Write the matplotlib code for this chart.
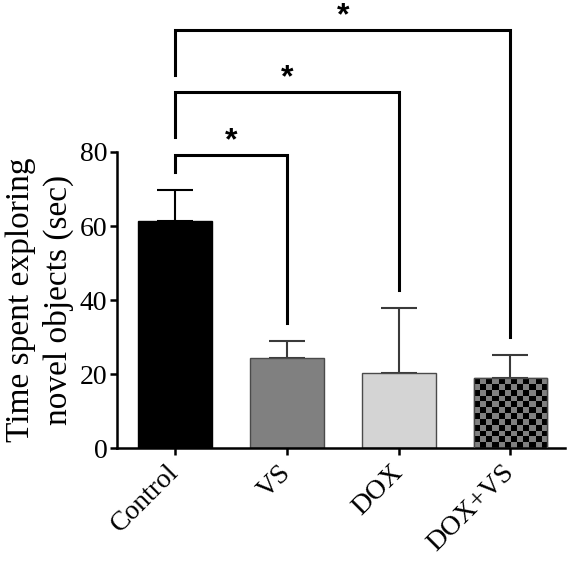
import matplotlib
matplotlib.use("Agg")
import matplotlib.pyplot as plt
import numpy as np

groups = ["Control", "VS", "DOX", "DOX+VS"]
means = [61.4, 24.2, 20.4, 18.9]
errors = [8.3, 4.7, 17.4, 6.2]
fills = ["black", "#808080", "#d4d4d4", "#808080"]

# significance brackets: (left bar, right bar, left leg bottom, top, right leg bottom)
brackets = [
    (0, 1, 74.6, 79.2, 33.8),
    (0, 2, 84.0, 96.2, 42.7),
    (0, 3, 100.8, 113.0, 30.0),
]
star_y = [82.9, 99.9, 116.7]

plt.rcParams['font.family'] = ['Liberation Serif', 'DejaVu Serif']

fig = plt.figure(figsize=(5.68, 5.65), dpi=100)
ax = fig.add_axes([0.206, 0.207, 0.789, 0.524])

x = np.arange(len(groups))
width = 0.66
bars = ax.bar(x, means, width, color=fills, edgecolor="#4a4a4a", linewidth=1.0, zorder=2)
bars[0].set_edgecolor("black")

# checkerboard fill for the DOX+VS bar
checker = np.indices((12, 12)).sum(axis=0) % 2
cmap = matplotlib.colors.ListedColormap(["#808080", "black"])
b = bars[3]
img = ax.imshow(checker, cmap=cmap, interpolation="nearest", aspect="auto",
                extent=[b.get_x(), b.get_x() + b.get_width(), 0, b.get_height()],
                zorder=2.5, origin="lower")
img.set_clip_path(b)
ax.bar(x[3], means[3], width, fill=False, edgecolor="#4a4a4a", linewidth=1.0, zorder=3)

err_colors = ["black", "#3a3a3a", "#3a3a3a", "#3a3a3a"]
for xi, m, e, c in zip(x, means, errors, err_colors):
    ax.errorbar(xi, m, yerr=[[0], [e]], fmt="none", ecolor=c,
                elinewidth=1.5, capsize=13, capthick=1.5, zorder=1)

for (i, j, yl, yt, yr), ys in zip(brackets, star_y):
    ax.plot([x[i], x[i], x[j], x[j]], [yl, yt, yt, yr], color="black",
            linewidth=2.2, clip_on=False, solid_joinstyle="miter", zorder=4)
    ax.text((x[i] + x[j]) / 2, ys, "*", ha="center", va="center", fontsize=23,
            fontweight="bold", family="Liberation Sans", clip_on=False)

ax.set_xlim(-0.52, 3.49)
ax.set_ylim(0, 80)
ax.set_yticks([0, 20, 40, 60, 80])
ax.set_xticks(x)
ax.set_xticklabels(groups, rotation=45, ha="right", va="center", rotation_mode="anchor")

ax.spines["top"].set_visible(False)
ax.spines["right"].set_visible(False)
ax.spines["left"].set_linewidth(1.8)
ax.spines["bottom"].set_linewidth(1.8)
ax.tick_params(axis="both", width=1.8, length=5, labelsize=20)
ax.tick_params(axis="x", pad=10)
ax.tick_params(axis="y", pad=2)

ax.set_ylabel("Time spent exploring\nnovel objects (sec)", fontsize=24, labelpad=4,
              linespacing=1.3)

plt.savefig("out.png", dpi=100)
